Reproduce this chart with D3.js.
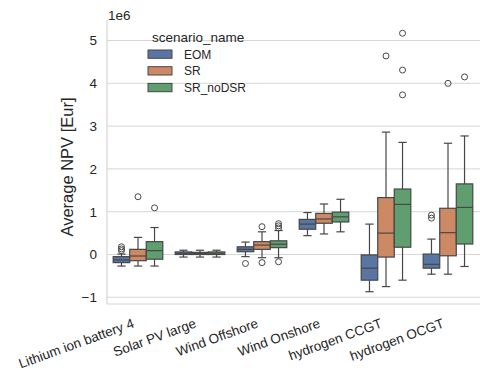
<!DOCTYPE html>
<html><head><meta charset="utf-8">
<script src="https://cdn.jsdelivr.net/npm/d3@7"></script>
<style>html,body{margin:0;padding:0;background:#fff;}svg{display:block;font-family:"Liberation Sans",Arial,sans-serif;}</style>
</head><body><div id="chart"></div>
<script>
const categories = ["Lithium ion battery 4","Solar PV large","Wind Offshore","Wind Onshore","hydrogen CCGT","hydrogen OCGT"];
const scenarios = ["EOM","SR","SR_noDSR"];
const colors = ["#5875a4","#cc8963","#5f9e6e"];
const yTicks = [-1,0,1,2,3,4,5];
// [whislo, q1, median, q3, whishi] in 1e6 EUR
const statsEOM = [[-0.27,-0.19,-0.13,-0.05,0.01],[-0.06,0.0,0.03,0.06,0.10],[-0.05,0.065,0.12,0.18,0.29],[0.44,0.59,0.71,0.82,0.98],[-0.87,-0.60,-0.32,-0.01,0.71],[-0.46,-0.32,-0.23,0.01,0.36]];
const statsSR = [[-0.27,-0.145,-0.035,0.12,0.40],[-0.06,0.0,0.02,0.05,0.10],[-0.075,0.12,0.22,0.30,0.53],[0.48,0.73,0.83,0.96,1.18],[-0.75,-0.06,0.50,1.33,2.86],[-0.46,-0.03,0.51,1.08,2.60]];
const statsNoDSR = [[-0.27,-0.11,0.09,0.30,0.63],[-0.06,0.0,0.03,0.06,0.10],[-0.075,0.16,0.24,0.32,0.56],[0.53,0.76,0.88,0.99,1.29],[-0.60,0.17,1.17,1.53,2.62],[-0.28,0.245,1.10,1.65,2.77]];
const outEOM = [[0.18,0.13,0.09],[],[-0.21],[],[],[0.92,0.85]];
const outSR = [[1.35],[],[0.65,-0.19],[],[4.64],[4.00]];
const outNoDSR = [[1.09],[],[0.72,0.67,0.62,-0.17],[],[5.17,4.31,3.73],[4.15]];

(function () {
const stats = [statsEOM, statsSR, statsNoDSR];
const outs = [outEOM, outSR, outNoDSR];

const W = 480, H = 373;
const mLeft = 107, mRight = 480, mTop = 20, mBottom = 304;
const lineCol = "#474747", gridCol = "#d6d6d6", textCol = "#262626";

const svg = d3.select("#chart").append("svg").attr("width", W).attr("height", H);
svg.append("rect").attr("width", W).attr("height", H).attr("fill", "#fff");

const x = d3.scaleBand().domain(categories).range([mLeft, mRight - 1]).padding(0);
const y = d3.scaleLinear().domain([-1.157, 5.48]).range([mBottom, mTop]);
const hue = d3.scaleBand().domain(scenarios).range([-0.4, 0.4]);

// grid
svg.append("g").selectAll("line").data(yTicks).join("line")
  .attr("x1", mLeft).attr("x2", mRight).attr("y1", d => y(d)).attr("y2", d => y(d))
  .attr("stroke", gridCol).attr("stroke-width", 1);

// spines
svg.append("line").attr("x1", mLeft).attr("x2", mLeft).attr("y1", mTop).attr("y2", mBottom).attr("stroke", gridCol).attr("stroke-width", 1.2);
svg.append("line").attr("x1", mLeft).attr("x2", mRight).attr("y1", mBottom).attr("y2", mBottom).attr("stroke", gridCol).attr("stroke-width", 1.2);

// y axis
const yAxis = d3.axisLeft(y).tickValues(yTicks).tickSize(0).tickPadding(10).tickFormat(d => d < 0 ? "\u2212" + Math.abs(d) : String(d));
const yg = svg.append("g").attr("transform", `translate(${mLeft},0)`).call(yAxis);
yg.select(".domain").remove();
yg.selectAll("text").attr("font-size", 13.5).attr("fill", textCol).attr("font-family", "Liberation Sans, Arial, sans-serif");

svg.append("text").attr("x", 108).attr("y", 20).attr("font-size", 13.5).attr("fill", textCol).text("1e6");

svg.append("text").attr("transform", `translate(72.5,167) rotate(-90)`).attr("text-anchor", "middle")
  .attr("font-size", 16.5).attr("fill", textCol).text("Average NPV [Eur]");

// x axis
const xAxis = d3.axisBottom(x).tickSize(0).tickPadding(0);
const xg = svg.append("g").attr("transform", `translate(0,${mBottom})`).call(xAxis);
xg.select(".domain").remove();
xg.selectAll("text").attr("font-size", 13.5).attr("fill", textCol).attr("font-family", "Liberation Sans, Arial, sans-serif")
  .attr("text-anchor", "end").attr("dy", 0).attr("y", 0)
  .attr("transform", "translate(-3,23) rotate(-20)");

// boxes
const step = x.bandwidth();
const bw = step * hue.bandwidth();
scenarios.forEach((s, si) => {
  const g = svg.append("g");
  const data = categories.map((c, ci) => ({c, st: stats[si][ci], out: outs[si][ci]}));
  const cx = d => x(d.c) + step / 2 + (hue(s) + hue.bandwidth() / 2) * step;
  g.selectAll(".wl").data(data).join("line").attr("x1", cx).attr("x2", cx)
    .attr("y1", d => y(d.st[0])).attr("y2", d => y(d.st[1])).attr("stroke", lineCol).attr("stroke-width", 1.2);
  g.selectAll(".wh").data(data).join("line").attr("x1", cx).attr("x2", cx)
    .attr("y1", d => y(d.st[3])).attr("y2", d => y(d.st[4])).attr("stroke", lineCol).attr("stroke-width", 1.2);
  [0, 4].forEach(k => {
    g.selectAll(".cap" + k).data(data).join("line")
      .attr("x1", d => cx(d) - bw / 4).attr("x2", d => cx(d) + bw / 4)
      .attr("y1", d => y(d.st[k])).attr("y2", d => y(d.st[k])).attr("stroke", lineCol).attr("stroke-width", 1.2);
  });
  g.selectAll(".box").data(data).join("rect")
    .attr("x", d => cx(d) - bw / 2).attr("width", bw)
    .attr("y", d => y(d.st[3])).attr("height", d => Math.max(0.5, y(d.st[1]) - y(d.st[3])))
    .attr("fill", colors[si]).attr("stroke", lineCol).attr("stroke-width", 1.2);
  g.selectAll(".med").data(data).join("line")
    .attr("x1", d => cx(d) - bw / 2).attr("x2", d => cx(d) + bw / 2)
    .attr("y1", d => y(d.st[2])).attr("y2", d => y(d.st[2])).attr("stroke", lineCol).attr("stroke-width", 1.2);
  const flat = data.flatMap(d => d.out.map(v => ({d, v})));
  g.selectAll(".fl").data(flat).join("circle")
    .attr("cx", o => cx(o.d)).attr("cy", o => y(o.v)).attr("r", 3)
    .attr("fill", "none").attr("stroke", lineCol).attr("stroke-width", 1);
});

// legend
const lg = svg.append("g");
lg.append("text").attr("x", 152).attr("y", 42).attr("font-size", 13.5).attr("fill", textCol).text("scenario_name");
scenarios.forEach((s, i) => {
  const yy = 50 + i * 16.7;
  lg.append("rect").attr("x", 148).attr("y", yy).attr("width", 24).attr("height", 8.3)
    .attr("fill", colors[i]).attr("stroke", lineCol).attr("stroke-width", 1);
  lg.append("text").attr("x", 184).attr("y", yy + 8.5).attr("font-size", 12).attr("fill", textCol).text(s);
});
})();
</script></body></html>
